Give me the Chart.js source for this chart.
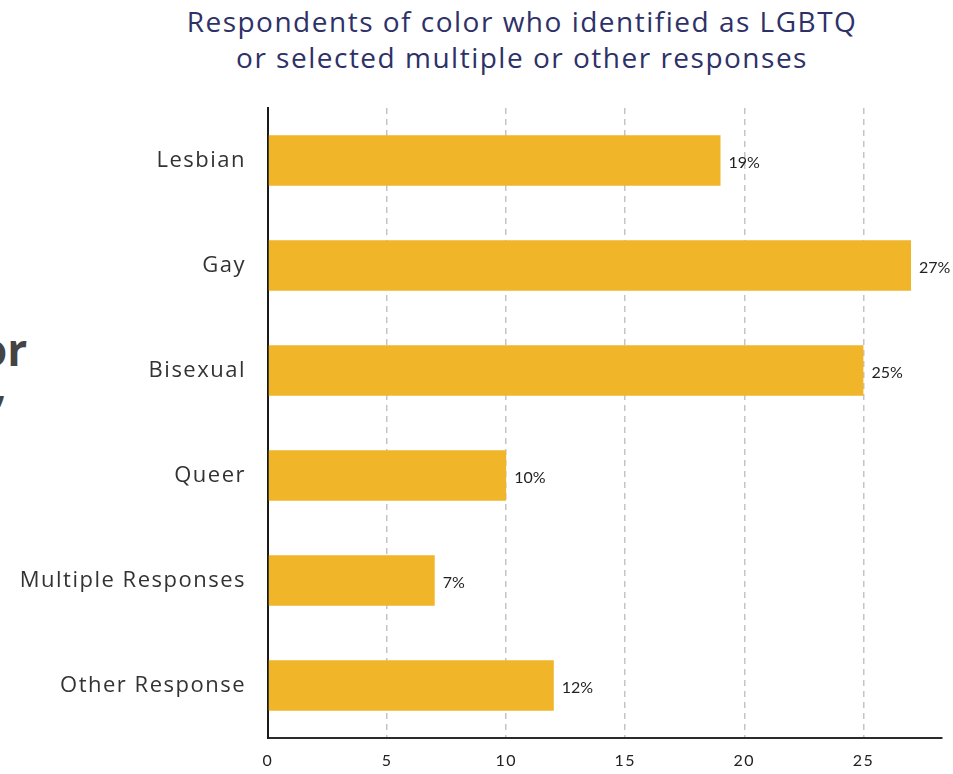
<!DOCTYPE html>
<html lang="en">
<head>
    <meta charset="UTF-8">
    <title>Respondents of color who identified as LGBTQ</title>
    <style>
        body {
            margin: 0;
            padding: 0;
            background-color: #ffffff;
            overflow: hidden;
        }
        .page {
            position: relative;
            width: 953px;
            height: 774px;
        }
        .chart-title {
            position: absolute;
            left: 122px;
            width: 800px;
            top: 3px;
            text-align: center;
            font-family: 'Open Sans', sans-serif;
            font-size: 28px;
            letter-spacing: 1.5px;
            line-height: 36px;
            color: #2e3168;
        }
        .side-heading {
            position: absolute;
            font-family: 'Open Sans', sans-serif;
            font-weight: 700;
            font-size: 44px;
            line-height: 44px;
            color: #444444;
        }
        #chart {
            position: absolute;
            left: 0;
            top: 0;
        }
    </style>
</head>
<body>
    <div class="page">
        <div class="side-heading" style="left: -20px; top: 327px;">or</div>
        <div class="side-heading" style="left: -6px; top: 362px;">,</div>
        <div class="chart-title">Respondents of color who identified as LGBTQ<br>or selected multiple or other responses</div>
        <canvas id="chart" width="953" height="774"></canvas>
    </div>

    <script src="https://cdn.jsdelivr.net/npm/chart.js"></script>
    <script>
        // Data
        const categories = ['Lesbian', 'Gay', 'Bisexual', 'Queer', 'Multiple Responses', 'Other Response'];
        const percentages = [19, 27, 25, 10, 7, 12];
        const tickValues = [0, 5, 10, 15, 20, 25];
        const axisMax = 28.3;

        // Wider lettering for the axis labels, switched off again before the bars
        const axisLetterSpacing = {
            id: 'axisLetterSpacing',
            beforeDraw(chart) {
                chart.ctx.letterSpacing = '1.5px';
            },
            beforeDatasetsDraw(chart) {
                chart.ctx.letterSpacing = '0px';
            }
        };

        // Writes "19%" etc. just past the end of each bar
        const valueLabels = {
            id: 'valueLabels',
            afterDatasetsDraw(chart) {
                const ctx = chart.ctx;
                const meta = chart.getDatasetMeta(0);
                ctx.save();
                ctx.font = '16px Lato, sans-serif';
                ctx.fillStyle = '#222222';
                ctx.textAlign = 'left';
                ctx.textBaseline = 'middle';
                meta.data.forEach((bar, i) => {
                    ctx.fillText(percentages[i] + '%', bar.x + 8, bar.y + 2);
                });
                ctx.restore();
            }
        };

        const ctx = document.getElementById('chart').getContext('2d');
        new Chart(ctx, {
            type: 'bar',
            data: {
                labels: categories,
                datasets: [{
                    data: percentages,
                    backgroundColor: '#f0b528',
                    borderWidth: 0,
                    barPercentage: 0.48,
                    categoryPercentage: 1.0
                }]
            },
            plugins: [axisLetterSpacing, valueLabels],
            options: {
                indexAxis: 'y',
                responsive: false,
                animation: false,
                layout: {
                    padding: { top: 108, right: 11, bottom: 0, left: 0 }
                },
                plugins: {
                    legend: { display: false },
                    tooltip: { enabled: false }
                },
                scales: {
                    x: {
                        min: 0,
                        max: axisMax,
                        afterBuildTicks(scale) {
                            scale.ticks = tickValues.map(v => ({ value: v }));
                        },
                        afterFit(scale) {
                            scale.height = 36;
                        },
                        grid: {
                            color: c => (c.tick && c.tick.value === 0) ? 'rgba(0,0,0,0)' : '#c4c4c4',
                            lineWidth: 1.5,
                            drawTicks: false
                        },
                        border: {
                            display: true,
                            color: '#2a2a2a',
                            width: 2,
                            dash: [6, 5]
                        },
                        ticks: {
                            padding: 13,
                            color: '#222222',
                            font: { family: 'Lato', size: 16 },
                            maxRotation: 0
                        }
                    },
                    y: {
                        afterFit(scale) {
                            scale.width = 268;
                        },
                        grid: { display: false, drawTicks: false },
                        border: {
                            display: true,
                            color: '#1a1a1a',
                            width: 2
                        },
                        ticks: {
                            padding: 22,
                            color: '#333333',
                            font: { family: 'Open Sans', size: 22 }
                        }
                    }
                }
            }
        });
    </script>
</body>
</html>
